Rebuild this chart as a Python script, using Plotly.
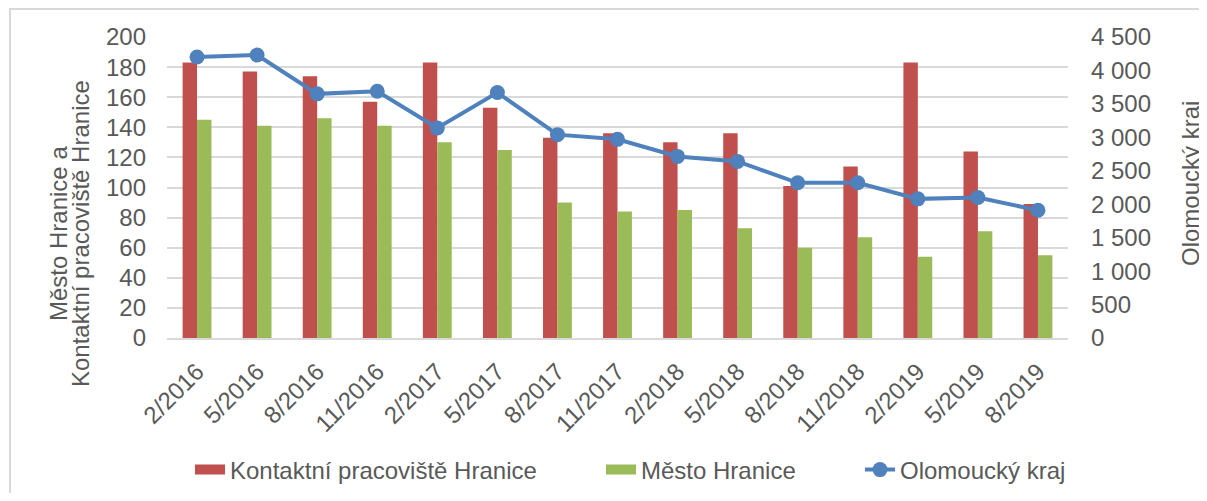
import plotly.graph_objects as go

categories = ["2/2016", "5/2016", "8/2016", "11/2016", "2/2017", "5/2017", "8/2017",
              "11/2017", "2/2018", "5/2018", "8/2018", "11/2018", "2/2019", "5/2019", "8/2019"]
kontaktni = [183, 177, 174, 157, 183, 153, 133, 136, 130, 136, 101, 114, 183, 124, 89]
mesto = [145, 141, 146, 141, 130, 125, 90, 84, 85, 73, 60, 67, 54, 71, 55]
olomoucky = [4200, 4230, 3650, 3690, 3140, 3670, 3040, 2970, 2715, 2640, 2320, 2320, 2080, 2100, 1910]

left_ticks = list(range(0, 201, 20))
right_ticks = list(range(0, 4501, 500))

FONT = "Liberation Sans, Arial, sans-serif"
GREY = "#595959"
GRID = "#d9d9d9"
RED = "#C0504D"
GREEN = "#9BBB59"
BLUE = "#4F81BD"
FS = 24

# figure is placed by the page 8px right/down of the window corner
W, H = 1199, 485
L, T, PW, PH = 159, 29, 901, 301
R = W - L - PW
B = H - T - PH


def px_x(x):
    return (x - L) / PW


def px_y(y):
    return (T + PH - y) / PH


fig = go.Figure()
fig.add_trace(go.Bar(x=categories, y=kontaktni, name="Kontaktní pracoviště Hranice",
                     marker_color=RED, marker_line_width=0, showlegend=False))
fig.add_trace(go.Bar(x=categories, y=mesto, name="Město Hranice",
                     marker_color=GREEN, marker_line_width=0, showlegend=False))
fig.add_trace(go.Scatter(x=categories, y=olomoucky, name="Olomoucký kraj", yaxis="y2",
                         mode="lines+markers",
                         line=dict(color=BLUE, width=4),
                         marker=dict(color=BLUE, size=15), legend="legend3"))
# legend keys for the bar series (wide swatches like the original)
fig.add_trace(go.Scatter(x=[None], y=[None], mode="lines", name="Kontaktní pracoviště Hranice",
                         line=dict(color=RED, width=12), legend="legend"))
fig.add_trace(go.Scatter(x=[None], y=[None], mode="lines", name="Město Hranice",
                         line=dict(color=GREEN, width=12), legend="legend2"))

leg_y = px_y(462)
leg_common = dict(orientation="h", xanchor="left", yanchor="middle", y=leg_y,
                  font=dict(size=FS, color=GREY, family=FONT), bgcolor="rgba(0,0,0,0)")

fig.update_layout(
    width=W, height=H,
    margin=dict(l=L, r=R, t=T, b=B, autoexpand=False),
    paper_bgcolor="white", plot_bgcolor="white",
    font=dict(family=FONT, size=FS, color=GREY),
    separators=", ",
    barmode="group", bargap=0.52, bargroupgap=0,
    showlegend=True,
    legend=dict(x=px_x(222 - 40), **leg_common),
    legend2=dict(x=px_x(633 - 40), **leg_common),
    legend3=dict(x=px_x(892 - 40), **leg_common),
    xaxis=dict(type="category", categoryorder="array", categoryarray=categories,
               range=[-0.5, len(categories) - 0.5], autorange=False,
               tickangle=-45, tickfont=dict(size=FS, color=GREY),
               showgrid=False, showline=True, linecolor=GRID, linewidth=2, ticks="",
               ticklabelstandoff=8, automargin=False),
    yaxis=dict(range=[0, 200], tickvals=left_ticks, showgrid=True, gridcolor=GRID, gridwidth=2,
               zeroline=False, ticks="", ticklabelstandoff=20, automargin=False,
               tickfont=dict(size=FS, color=GREY)),
    yaxis2=dict(range=[0, 4500], tickvals=right_ticks, overlaying="y", side="right",
                showgrid=False, zeroline=False, ticks="", ticklabelstandoff=22,
                tickformat=",d", automargin=False, tickfont=dict(size=FS, color=GREY)),
    annotations=[
        dict(text="Město Hranice a", textangle=-90,
             xref="paper", yref="paper", x=px_x(50), y=px_y(226),
             xanchor="center", yanchor="middle", showarrow=False,
             font=dict(size=FS, color=GREY, family=FONT)),
        dict(text="Kontaktní pracoviště Hranice", textangle=-90,
             xref="paper", yref="paper", x=px_x(72), y=px_y(226),
             xanchor="center", yanchor="middle", showarrow=False,
             font=dict(size=FS, color=GREY, family=FONT)),
        dict(text="Olomoucký kraj", textangle=-90,
             xref="paper", yref="paper", x=px_x(1182), y=px_y(176),
             xanchor="center", yanchor="middle", showarrow=False,
             font=dict(size=FS, color=GREY, family=FONT)),
    ],
    shapes=[
        dict(type="path", xref="paper", yref="paper",
             path=f"M {px_x(2)},{px_y(H + 10)} L {px_x(2)},{px_y(1)} L {px_x(W + 20)},{px_y(1)}",
             line=dict(color=GRID, width=2)),
    ],
)

fig.write_html("out.html")
